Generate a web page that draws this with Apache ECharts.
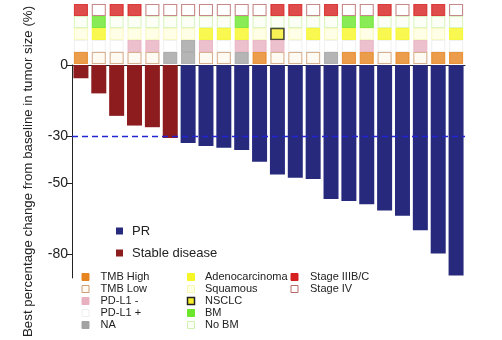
<!DOCTYPE html>
<html><head><meta charset="utf-8">
<script src="https://cdn.jsdelivr.net/npm/echarts@6/dist/echarts.min.js"></script>
<style>html,body{margin:0;padding:0;background:#fff}#c{width:502px;height:340px}</style>
</head><body><div id="c"></div>
<script>
// ---- data ----
const patients = ['P1','P2','P3','P4','P5','P6','P7','P8','P9','P10','P11','P12','P13','P14','P15','P16','P17','P18','P19','P20','P21','P22'];
const changes = [-5.6,-12,-21.5,-25.6,-26.3,-30.9,-33,-34.2,-35,-35.9,-40.9,-46.3,-47.7,-48.2,-56.7,-57.5,-58.9,-61.5,-63.7,-69.9,-79.7,-89];
const response = ['SD','SD','SD','SD','SD','SD','PR','PR','PR','PR','PR','PR','PR','PR','PR','PR','PR','PR','PR','PR','PR','PR'];
const stage = ['IIIB/C','IV','IIIB/C','IIIB/C','IV','IV','IV','IV','IV','IV','IV','IIIB/C','IIIB/C','IV','IIIB/C','IV','IV','IIIB/C','IV','IIIB/C','IIIB/C','IV'];
const brainMets = ['No','BM','No','No','No','No','No','No','No','BM','No','No','No','No','No','BM','BM','No','No','No','No','No'];
const histology = ['Sq','Ad','Sq','Sq','Sq','Sq','Sq','Ad','Ad','Ad','Sq','NSCLC','Sq','Ad','Sq','Ad','Sq','Ad','Ad','Sq','Sq','Ad'];
const pdl1 = ['+','+','+','-','-','+','NA','-','+','-','-','-','+','+','+','+','-','+','+','-','+','+'];
const tmb = ['High','Low','Low','Low','Low','NA','NA','Low','Low','NA','High','Low','Low','Low','NA','High','High','Low','High','Low','High','High'];
const yTicks = [0,-30,-50,-80];
const threshold = -30;
const responseNames = {PR:'PR', SD:'Stable disease'};

// ---- styles ----
const S = {
  stage: {'IIIB/C':{color:'#d61f1f',borderColor:'#d61f1f',borderWidth:1}, 'IV':{color:'#ffffff',borderColor:'#b86a6a',borderWidth:1}},
  bm: {'BM':{color:'#6ce62c',borderColor:'#6ce62c',borderWidth:1}, 'No':{color:'#fbfff4',borderColor:'#d2f2b4',borderWidth:1}},
  hist: {'Ad':{color:'#f6f626',borderColor:'#f6f626',borderWidth:1}, 'Sq':{color:'#ffffe2',borderColor:'#f6f6b4',borderWidth:1}, 'NSCLC':{color:'#f6ee2a',borderColor:'#222222',borderWidth:1.5}},
  pd: {'-':{color:'#e9b0c0',borderColor:'#e9b0c0',borderWidth:1}, '+':{color:'#ffffff',borderColor:'#eeeeee',borderWidth:1}, 'NA':{color:'#a3a3a3',borderColor:'#a3a3a3',borderWidth:1}},
  tmb: {'High':{color:'#e6841f',borderColor:'#e6841f',borderWidth:1}, 'Low':{color:'#fffaf0',borderColor:'#cc9c74',borderWidth:1}, 'NA':{color:'#a3a3a3',borderColor:'#a3a3a3',borderWidth:1}}
};
const rows = [['stage',stage],['bm',brainMets],['hist',histology],['pd',pdl1],['tmb',tmb]];
const FONT = 'Liberation Sans, Arial, sans-serif';
const barColors = {PR:'#272a7c', SD:'#8c1c1e'};

const series = [];
['PR','SD'].forEach(function(r){
  series.push({
    name: responseNames[r], type:'bar', stack:'resp', xAxisIndex:0, yAxisIndex:0,
    barWidth: 15,
    itemStyle:{color:barColors[r]},
    data: changes.map(function(v,i){ return response[i]===r ? v : null; }),
    markLine: r==='PR' ? {silent:true, symbol:'none', label:{show:false}, z:10,
      lineStyle:{color:'#2323d2', type:[6,4], width:1.3}, data:[{yAxis:threshold}]} : undefined,
    z: 2
  });
});
rows.forEach(function(row, ri){
  const key=row[0], arr=row[1];
  series.push({
    type:'scatter', xAxisIndex:1, yAxisIndex:1, symbol:'rect', symbolSize:[13,11], silent:true,
    data: arr.map(function(v,i){ return {value:[i, ri], itemStyle: S[key][v]}; })
  });
});

// bottom legend (graphic)
const legendItems = [
  [0,0,'TMB High',S.tmb.High],[0,1,'TMB Low',S.tmb.Low],[0,2,'PD-L1 -',S.pd['-']],[0,3,'PD-L1 +',S.pd['+']],[0,4,'NA',S.pd.NA],
  [1,0,'Adenocarcinoma',S.hist.Ad],[1,1,'Squamous',S.hist.Sq],[1,2,'NSCLC',S.hist.NSCLC],[1,3,'BM',S.bm.BM],[1,4,'No BM',S.bm.No],
  [2,0,'Stage IIIB/C',S.stage['IIIB/C']],[2,1,'Stage IV',S.stage.IV]
];
const colX = [[82,100.5],[187.5,205],[291,310]];
const rowY = [277,289,301,313,325];
const graphic = [];
legendItems.forEach(function(it){
  const cx = colX[it[0]], y = rowY[it[1]];
  graphic.push({type:'rect', shape:{x:cx[0], y:y-3.5, width:7, height:7},
    style:{fill:it[3].color, stroke:it[3].borderColor, lineWidth:it[3].borderWidth}});
  graphic.push({type:'text', x:cx[1], y:y, style:{text:it[2], fill:'#222', font:'11px '+FONT, textVerticalAlign:'middle'}});
});

const chart = echarts.init(document.getElementById('c'), null, {renderer:'canvas'});
chart.setOption({
  animation:false,
  backgroundColor:'#fff',
  textStyle:{fontFamily:FONT},
  grid:[{left:72, right:37, top:65, bottom:62}, {left:72, right:37, top:4, height:60}],
  legend:{orient:'vertical', left:111, top:219, itemWidth:7, itemHeight:7, itemGap:8, icon:'rect',
    data:[responseNames.PR, responseNames.SD],
    textStyle:{fontSize:13, color:'#222', lineHeight:14, padding:[0,0,0,4], fontFamily:FONT}},
  xAxis:[
    {type:'category', gridIndex:0, data:patients, position:'top', boundaryGap:true,
      axisLine:{show:true, onZero:true, lineStyle:{color:'#222', width:1}}, axisTick:{show:false}, axisLabel:{show:false}},
    {type:'category', gridIndex:1, data:patients, show:false, boundaryGap:true}
  ],
  yAxis:[
    {type:'value', gridIndex:0, min:-90, max:0, interval:10,
      name:'Best percentage change from baseline in tumor size (%)', nameLocation:'middle', nameGap:37,
      nameTextStyle:{fontSize:13.3, color:'#222', fontFamily:FONT},
      axisLine:{show:true, lineStyle:{color:'#222', width:1}},
      axisTick:{show:true, length:6, customValues:yTicks, lineStyle:{color:'#222'}},
      axisLabel:{customValues:yTicks, fontSize:14, color:'#222', margin:4, fontFamily:FONT},
      splitLine:{show:false}},
    {type:'category', gridIndex:1, data:['Stage','BM','Histology','PD-L1','TMB'], inverse:true, show:false}
  ],
  series: series,
  graphic: graphic
});
</script></body></html>
